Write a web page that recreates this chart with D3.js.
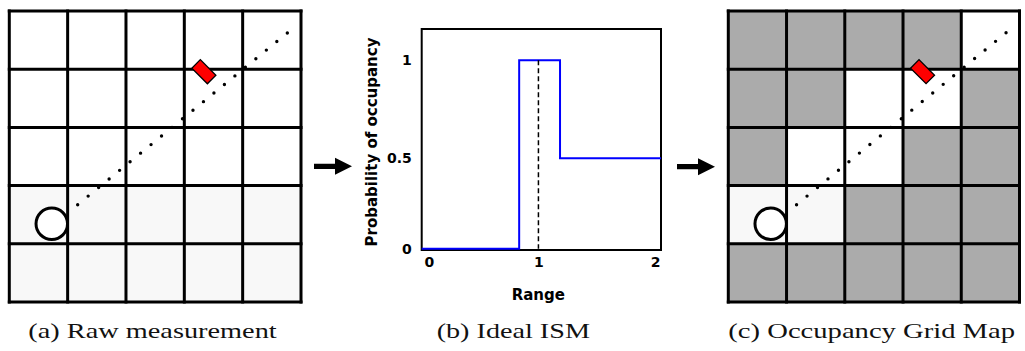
<!DOCTYPE html>
<html><head><meta charset="utf-8">
<script src="https://cdn.jsdelivr.net/npm/d3@7"></script>
<style>body{margin:0;background:#fff} svg{display:block}</style>
</head><body>
<svg id="c" width="1025" height="351"></svg>
<script>
// ---- data ----
const gridIdx = [0, 1, 2, 3, 4];
const rawCells = [
  ["w","w","w","w","w"],
  ["w","w","w","w","w"],
  ["w","w","w","w","w"],
  ["l","l","l","l","l"],
  ["l","l","l","l","l"]
];
const ogmCells = [
  ["u","u","u","u","w"],
  ["u","u","w","w","u"],
  ["u","w","w","u","u"],
  ["l","l","u","u","u"],
  ["u","u","u","u","u"]
];
const robotPos = [0.728, 3.655];
const robotRadius = 0.27;
const rayStart = [1.172, 3.328];
const rayEnd = [4.925, 0.246];
const obstaclePos = [3.335, 1.043];
const obstacleSize = [0.377, 0.206];
const obstacleAngle = 45;

const ismRange = [0, 0.835, 1.185, 2.05];
const ismProb  = [0, 1, 0.48, 0.48];
const measuredRange = 1;
const xTickValues = [0, 1, 2];
const xTickLabels = ["0", "1", "2"];
const yTickValues = [0, 0.48, 1];
const yTickLabels = ["0", "0.5", "1"];
const xTitle = "Range";
const yTitle = "Probability of occupancy";
const captions = ["(a) Raw measurement", "(b) Ideal ISM", "(c) Occupancy Grid Map"];

// ---- drawing ----
const svg = d3.select("#c");
const fills = {w: "#ffffff", l: "#f8f8f8", u: "#ababab"};

function drawGrid(x0, x1, cells) {
  const gx = d3.scaleLinear().domain([0, 5]).range([x0, x1]);
  const gy = d3.scaleLinear().domain([0, 5]).range([11, 302]);
  const g = svg.append("g");
  const cellData = [];
  gridIdx.forEach(r => gridIdx.forEach(c => cellData.push({r, c, s: cells[r][c]})));
  g.selectAll("rect.cell").data(cellData).join("rect")
    .attr("x", d => gx(d.c)).attr("y", d => gy(d.r))
    .attr("width", gx(1) - gx(0)).attr("height", gy(1) - gy(0))
    .attr("fill", d => fills[d.s]);
  const lines = d3.range(6);
  g.selectAll("line.v").data(lines).join("line")
    .attr("x1", d => gx(d)).attr("x2", d => gx(d))
    .attr("y1", gy(0) - 1.5).attr("y2", gy(5) + 1.5)
    .attr("stroke", "#000").attr("stroke-width", 3);
  g.selectAll("line.h").data(lines).join("line")
    .attr("y1", d => gy(d)).attr("y2", d => gy(d))
    .attr("x1", gx(0) - 1.5).attr("x2", gx(5) + 1.5)
    .attr("stroke", "#000").attr("stroke-width", 3);
  // ray
  g.append("line")
    .attr("x1", gx(rayStart[0])).attr("y1", gy(rayStart[1]))
    .attr("x2", gx(rayEnd[0])).attr("y2", gy(rayEnd[1]))
    .attr("stroke", "#000").attr("stroke-width", 3.4)
    .attr("stroke-linecap", "round").attr("stroke-dasharray", "0,13.55");
  // robot
  g.append("circle")
    .attr("cx", gx(robotPos[0])).attr("cy", gy(robotPos[1]))
    .attr("r", gx(robotRadius) - gx(0))
    .attr("fill", "#fff").attr("stroke", "#000").attr("stroke-width", 3);
  // obstacle
  const L = gx(obstacleSize[0]) - gx(0), W = gy(obstacleSize[1]) - gy(0);
  g.append("rect")
    .attr("x", -L / 2).attr("y", -W / 2).attr("width", L).attr("height", W)
    .attr("fill", "#ff0000").attr("stroke", "#000").attr("stroke-width", 1.3)
    .attr("transform", `translate(${gx(obstaclePos[0])},${gy(obstaclePos[1])}) rotate(${obstacleAngle})`);
}

drawGrid(9.3, 301, rawCells);
drawGrid(728.3, 1019.5, ogmCells);

// ---- middle plot ----
const px = d3.scaleLinear().domain([0, 2.05]).range([421.7, 661]);
const py = d3.scaleLinear().domain([-0.007, 1.166]).range([250, 29]);
const mid = svg.append("g");
mid.append("rect").attr("x", 421.7).attr("y", 29).attr("width", 661 - 421.7).attr("height", 250 - 29)
  .attr("fill", "#fff").attr("stroke", "#000").attr("stroke-width", 2);

mid.append("path")
  .datum(ismRange.map((r, i) => [r, ismProb[i]]))
  .attr("d", d3.line().x(d => px(d[0])).y(d => py(d[1])).curve(d3.curveStepAfter))
  .attr("fill", "none").attr("stroke", "#0000ff").attr("stroke-width", 2);

mid.append("line")
  .attr("x1", px(measuredRange)).attr("x2", px(measuredRange))
  .attr("y1", py(1)).attr("y2", py(0))
  .attr("stroke", "#000").attr("stroke-width", 1.5).attr("stroke-dasharray", "5,3");

const xAxis = mid.append("g").attr("transform", "translate(0,250)")
  .call(d3.axisBottom(px).tickValues(xTickValues).tickSize(0).tickPadding(7)
    .tickFormat((d, i) => xTickLabels[i]));
xAxis.select(".domain").remove();
xAxis.selectAll("text").attr("font-family", "DejaVu Sans").attr("font-weight", "bold")
  .attr("font-size", 14).attr("fill", "#000");
xAxis.selectAll("text").filter((d, i) => i === 0).attr("text-anchor", "start").attr("dx", 2.3);

const yAxis = mid.append("g").attr("transform", "translate(421.7,0)")
  .call(d3.axisLeft(py).tickValues(yTickValues).tickSize(0).tickPadding(10)
    .tickFormat((d, i) => yTickLabels[i]));
yAxis.select(".domain").remove();
yAxis.selectAll("text").attr("font-family", "DejaVu Sans").attr("font-weight", "bold")
  .attr("font-size", 14).attr("fill", "#000");

mid.append("text").attr("x", 538.3).attr("y", 300)
  .attr("text-anchor", "middle").attr("font-family", "DejaVu Sans").attr("font-weight", "bold")
  .attr("font-size", 15).text(xTitle);
mid.append("text").attr("transform", "translate(377,142) rotate(-90)")
  .attr("text-anchor", "middle").attr("font-family", "DejaVu Sans").attr("font-weight", "bold")
  .attr("font-size", 15).text(yTitle);

// ---- arrows ----
function arrow(x, y) {
  const p = d3.path();
  p.moveTo(x, y - 2.6); p.lineTo(x + 21, y - 2.6); p.lineTo(x + 21, y - 8.5);
  p.lineTo(x + 38, y); p.lineTo(x + 21, y + 8.5); p.lineTo(x + 21, y + 2.6);
  p.lineTo(x, y + 2.6); p.closePath();
  svg.append("path").attr("d", p.toString()).attr("fill", "#000");
}
arrow(314, 166.3);
arrow(677, 166.7);

// ---- captions ----
const capX = [152.5, 513.3, 871.7];
const capW = [248.4, 153.3, 286.7];
svg.selectAll("text.cap").data(captions).join("text")
  .attr("class", "cap")
  .attr("x", (d, i) => capX[i] - capW[i] / 2).attr("y", 338)
  .attr("textLength", (d, i) => capW[i]).attr("lengthAdjust", "spacingAndGlyphs")
  .attr("font-family", "Liberation Serif").attr("font-size", 21).attr("fill", "#111")
  .text(d => d);
</script>
</body></html>
